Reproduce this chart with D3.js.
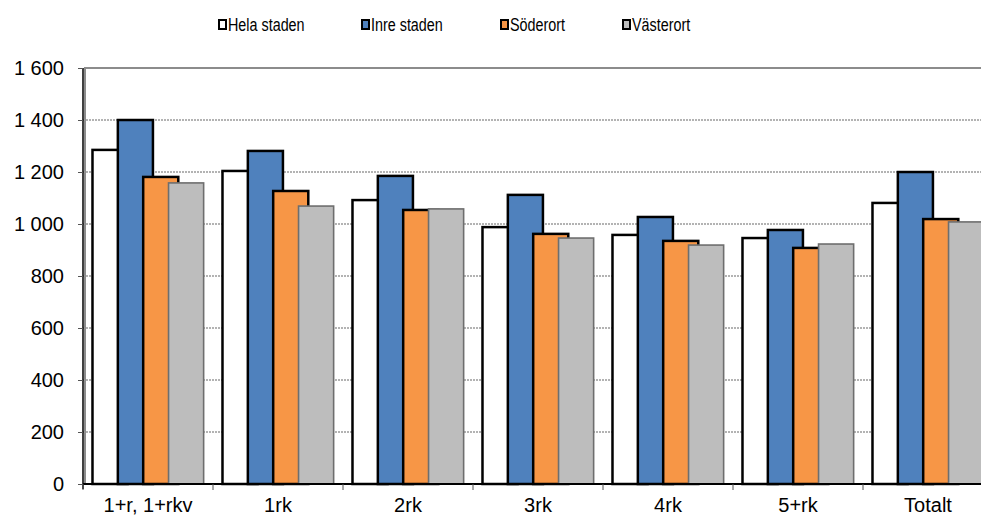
<!DOCTYPE html>
<html>
<head>
<meta charset="utf-8">
<script src="https://cdn.jsdelivr.net/npm/d3@7/dist/d3.min.js"></script>
<style>
  body { margin: 0; background: #fff; }
  svg { display: block; font-family: "Liberation Sans", Arial, sans-serif; }
</style>
</head>
<body>
<svg id="chart" width="981" height="517"></svg>
<script>
// Rent levels per apartment size and city area
const categories = ["1+r, 1+rkv", "1rk", "2rk", "3rk", "4rk", "5+rk", "Totalt"];
const seriesNames = ["Hela staden", "Inre staden", "Söderort", "Västerort"];
const helaStaden  = [1285, 1204, 1092, 988, 958, 946, 1081];
const inreStaden  = [1400, 1281, 1185, 1112, 1027, 977, 1200];
const soderort    = [1181, 1127, 1054, 962, 935, 908, 1019];
const vasterort   = [1158, 1069, 1058, 946, 919, 923, 1008];
const yTicks = [0, 200, 400, 600, 800, 1000, 1200, 1400, 1600];

const seriesValues = [helaStaden, inreStaden, soderort, vasterort];
const fills = ["#ffffff", "#4f81bd", "#f79646", "#bdbdbd"];
const strokes = ["#000000", "#000000", "#000000", "#6e6e6e"];
const strokeW = [2.5, 2.5, 2.5, 1.6];

const svg = d3.select("#chart");
const plotLeft = 83, plotRight = 993, plotTop = 68, plotBottom = 484;

const x = d3.scaleBand().domain(categories).range([plotLeft, plotRight]).paddingInner(0).paddingOuter(0);
const y = d3.scaleLinear().domain([0, 1600]).range([plotBottom, plotTop]);

// bars overlap within each group
const bw = x.bandwidth();
const offset = bw * 0.073, step = bw * 0.195, barW = bw * 0.27;

const fmt = v => d3.format(",")(v).replace(/,/g, " ");

// plot area border
svg.append("rect")
  .attr("x", plotLeft + 2).attr("y", plotTop)
  .attr("width", plotRight - plotLeft).attr("height", plotBottom - plotTop)
  .attr("fill", "none").attr("stroke", "#8c8c8c").attr("stroke-width", 2);

// gridlines
svg.append("g").selectAll("line")
  .data(yTicks.filter(t => t > 0 && t < 1600))
  .join("line")
  .attr("x1", plotLeft).attr("x2", plotRight)
  .attr("y1", d => y(d)).attr("y2", d => y(d))
  .attr("stroke", "#9a9a9a").attr("stroke-width", 1.3)
  .attr("stroke-dasharray", "2,1");

// bars, drawn series by series so later ones overlap earlier ones
seriesValues.forEach((vals, s) => {
  svg.append("g").selectAll("rect")
    .data(categories.map((c, i) => ({ c, v: vals[i] })))
    .join("rect")
    .attr("x", d => x(d.c) + offset + s * step)
    .attr("y", d => y(d.v))
    .attr("width", barW)
    .attr("height", d => y(0) - y(d.v))
    .attr("fill", fills[s])
    .attr("stroke", strokes[s])
    .attr("stroke-width", strokeW[s]);
});

// y axis
const yAxis = d3.axisLeft(y).tickValues(yTicks).tickSize(5).tickPadding(14).tickFormat(fmt);
const ya = svg.append("g").attr("transform", `translate(${plotLeft},0)`).call(yAxis);
ya.select(".domain").attr("stroke", "#000").attr("stroke-width", 1.5).attr("d", `M0,${plotTop}V${plotBottom + 5}`);
ya.selectAll(".tick line").attr("stroke", "#555");
ya.selectAll(".tick text").attr("font-size", 20).attr("fill", "#000")
  .attr("dy", "0.34em")
  .attr("font-family", "'Liberation Sans', Arial, sans-serif");

// x axis
const xAxis = d3.axisBottom(x).tickSize(0).tickPadding(0);
const xa = svg.append("g").attr("transform", `translate(0,${plotBottom})`).call(xAxis);
xa.select(".domain").attr("stroke", "#000").attr("stroke-width", 2).attr("d", `M${plotLeft},0H${plotRight}`);
xa.selectAll(".tick text").attr("font-size", 20).attr("fill", "#000")
  .attr("y", 28).attr("dy", 0)
  .attr("font-family", "'Liberation Sans', Arial, sans-serif");
svg.append("g").selectAll("line")
  .data(categories)
  .join("line")
  .attr("x1", d => x(d)).attr("x2", d => x(d))
  .attr("y1", plotBottom).attr("y2", plotBottom + 6)
  .attr("stroke", "#555").attr("stroke-width", 1);

// legend (condensed lettering)
const legendX = [218, 361, 500, 622];
const lg = svg.append("g").selectAll("g")
  .data(seriesNames)
  .join("g")
  .attr("transform", (d, i) => `translate(${legendX[i]},0)`);
lg.append("rect")
  .attr("x", 1).attr("y", 20).attr("width", 7).attr("height", 9)
  .attr("fill", (d, i) => fills[i])
  .attr("stroke", "#000").attr("stroke-width", 2);
lg.append("text")
  .attr("transform", "translate(10,31) scale(0.82,1)")
  .attr("font-size", 17.5).attr("fill", "#000")
  .text(d => d);
</script>
</body>
</html>
